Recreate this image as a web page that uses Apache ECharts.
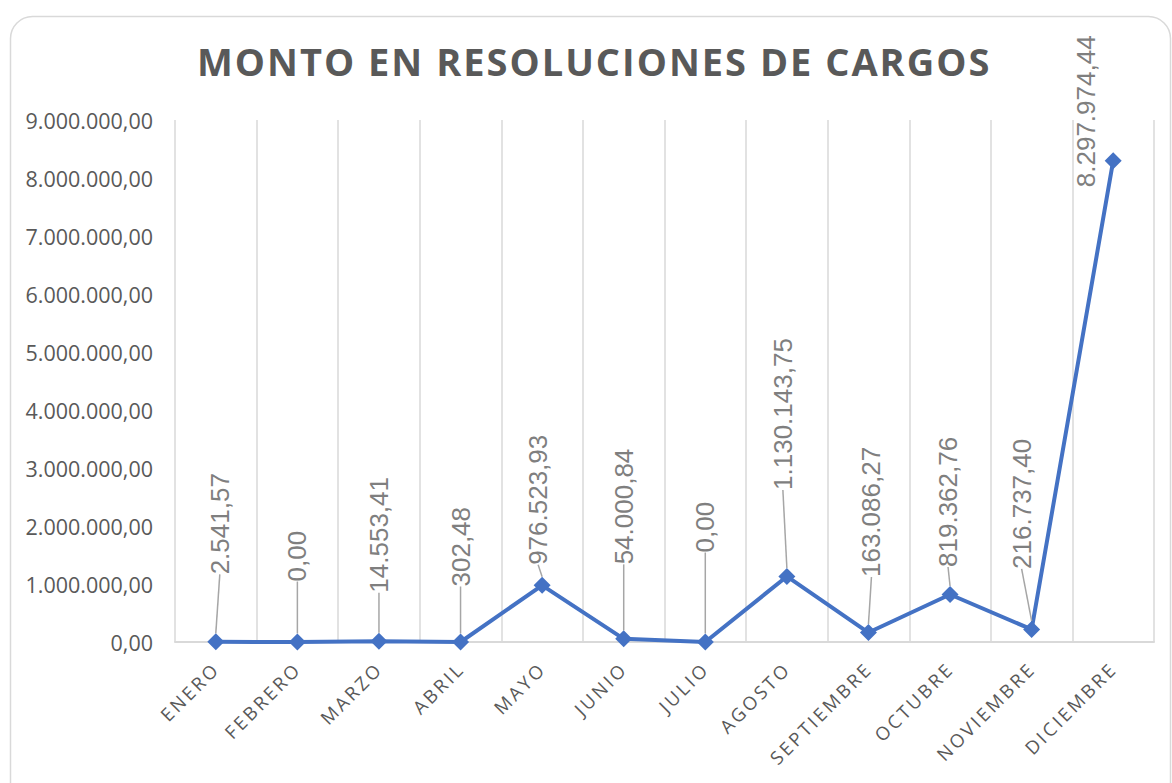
<!DOCTYPE html>
<html>
<head>
<meta charset="utf-8">
<script src="https://cdn.jsdelivr.net/npm/echarts@6/dist/echarts.min.js"></script>
<style>
  html, body { margin: 0; background: #fff; }
  #chart { width: 1172px; height: 783px; }
</style>
</head>
<body>
<div id="chart"></div>
<script>
var meses = ['ENERO', 'FEBRERO', 'MARZO', 'ABRIL', 'MAYO', 'JUNIO', 'JULIO',
             'AGOSTO', 'SEPTIEMBRE', 'OCTUBRE', 'NOVIEMBRE', 'DICIEMBRE'];
var montos = [2541.57, 0, 14553.41, 302.48, 976523.93, 54000.84, 0,
              1130143.75, 163086.27, 819362.76, 216737.40, 8297974.44];

// desplazamiento manual de las etiquetas en pantalla (px), como en el original
var etiquetaDx = [4, 0, 0, 0, -4, 0, 0, -4, 3, -2, -10, -27];
var etiquetaDy = [-59, -52, -40, -47, -12, -66, -81, -78, -47, -19, -52, 35];

var titulo = 'MONTO EN RESOLUCIONES DE CARGOS';

// formato 1.234.567,89
function fmt(v) {
    var p = v.toFixed(2).split('.');
    return p[0].replace(/\B(?=(\d{3})+(?!\d))/g, '.') + ',' + p[1];
}

var chart = echarts.init(document.getElementById('chart'), null, { renderer: 'svg' });

var option = {
    animation: false,
    backgroundColor: '#fff',
    graphic: [{
        type: 'rect',
        left: 8, top: 14,
        shape: { width: 1160, height: 800, r: 22 },
        style: { fill: 'none', stroke: '#d9d9d9', lineWidth: 1.5 }
    }],
    title: {
        text: titulo,
        left: 192,
        top: 37,
        textStyle: {
            fontFamily: 'Open Sans',
            fontWeight: 'bold',
            fontSize: 38,
            color: '#595959'
        }
    },
    grid: { left: 175, right: 18, top: 120, bottom: 141 },
    xAxis: {
        type: 'category',
        data: meses,
        boundaryGap: true,
        axisLine: { lineStyle: { color: '#d9d9d9', width: 2 } },
        axisTick: { show: false },
        splitLine: { show: true, lineStyle: { color: '#d9d9d9', width: 1.5 } },
        axisLabel: {
            rotate: 45,
            margin: 23,
            interval: 0,
            fontFamily: 'Open Sans',
            fontSize: 18.5,
            color: '#595959'
        }
    },
    yAxis: {
        type: 'value',
        min: 0,
        max: 9000000,
        interval: 1000000,
        axisLine: { show: false },
        axisTick: { show: false },
        splitLine: { show: false },
        axisLabel: {
            margin: 22,
            fontFamily: 'Open Sans',
            fontSize: 21.5,
            color: '#595959',
            formatter: function (v) { return fmt(v); }
        }
    },
    series: [{
        type: 'line',
        data: montos.map(function (v, i) {
            return i === montos.length - 1 ? { value: v, labelLine: { show: false } } : v;
        }),
        symbol: 'diamond',
        symbolSize: 17,
        itemStyle: { color: '#4472c4' },
        lineStyle: { color: '#4472c4', width: 4 },
        label: {
            show: true,
            position: 'top',
            distance: 0,
            rotate: 90,
            align: 'left',
            verticalAlign: 'middle',
            fontFamily: 'Liberation Sans',
            fontSize: 26,
            color: '#7f7f7f',
            formatter: function (p) { return fmt(p.value); }
        },
        labelLine: {
            show: true,
            lineStyle: { color: '#a6a6a6', width: 1.5 }
        },
        // el desplazamiento se aplica en el marco girado de la etiqueta
        labelLayout: function (p) {
            var i = p.dataIndex;
            return { dx: -etiquetaDy[i], dy: etiquetaDx[i] };
        }
    }]
};

chart.setOption(option);

// espaciado de letras del titulo y de los meses (como en Excel)
function espaciar() {
    var textos = document.querySelectorAll('#chart text');
    textos.forEach(function (t) {
        var s = t.textContent;
        if (s === titulo) t.setAttribute('letter-spacing', '2');
        else if (meses.indexOf(s) >= 0) t.setAttribute('letter-spacing', '2.8');
    });
}
chart.on('finished', espaciar);
espaciar();
setTimeout(espaciar, 50);
</script>
</body>
</html>
